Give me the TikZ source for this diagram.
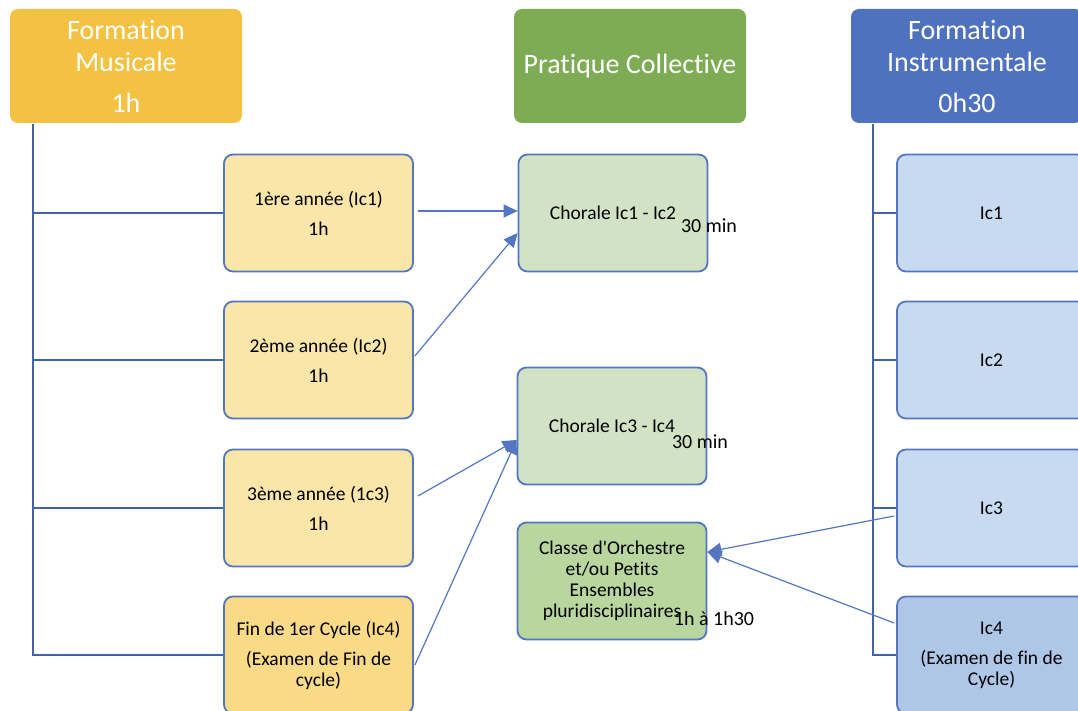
\documentclass[tikz,border=0pt]{standalone}
\usepackage{fontspec}
\setmainfont[Ligatures=NoCommon]{Carlito}
\usetikzlibrary{arrows.meta}
\definecolor{hdyellow}{RGB}{244,194,66}
\definecolor{hdgreen}{RGB}{126,172,85}
\definecolor{hdblue}{RGB}{79,114,190}
\definecolor{bxyellow}{RGB}{250,230,168}
\definecolor{bxyellowd}{RGB}{249,218,134}
\definecolor{bxgreen}{RGB}{210,227,197}
\definecolor{bxgreend}{RGB}{184,214,158}
\definecolor{bxblue}{RGB}{200,218,240}
\definecolor{bxblued}{RGB}{175,199,231}
\definecolor{edge}{RGB}{84,118,194}
\definecolor{treecol}{RGB}{66,98,170}
\tikzset{
  header/.style={rounded corners=8pt, inner sep=0pt, minimum width=232pt, minimum height=114pt,
    text=white, align=center, font=\fontsize{28}{32}\selectfont},
  cell/.style={draw=edge, line width=1.8pt, rounded corners=9pt, inner sep=0pt,
    minimum width=189pt, minimum height=117pt, align=center, font=\fontsize{19.5}{21}\selectfont},
  plain/.style={inner sep=0pt, font=\fontsize{20}{21}\selectfont},
  treeline/.style={draw=treecol, line width=2pt},
  arr/.style={draw=edge, line width=1.2pt, -{Triangle[length=14pt,width=13pt]}}
}
\begin{document}
\begin{tikzpicture}[x=1pt,y=-1pt]
\useasboundingbox (0,0) rectangle (1078,711);
% headers
\node[header, fill=hdyellow] (fm) at (126,66) {Formation\\Musicale\\[9pt]1h};
\node[header, fill=hdgreen] (pc) at (630,66) {Pratique Collective};
\node[header, fill=hdblue] (fi) at (967,66) {Formation\\Instrumentale\\[9pt]0h30};
% left column
\node[cell, fill=bxyellow] (y1) at (318.5,213) {1ère année (Ic1)\\[9pt]1h};
\node[cell, fill=bxyellow] (y2) at (318.5,360) {2ème année (Ic2)\\[9pt]1h};
\node[cell, fill=bxyellow] (y3) at (318.5,508) {3ème année (1c3)\\[9pt]1h};
\node[cell, fill=bxyellowd] (y4) at (318.5,655) {Fin de 1er Cycle (Ic4)\\[9pt](Examen de Fin de\\cycle)};
% middle column
\node[cell, fill=bxgreen] (c1) at (613,213) {Chorale Ic1 - Ic2};
\node[plain] (t1) at (709,226) {30 min};
\node[cell, fill=bxgreen] (c2) at (612,426) {Chorale Ic3 - Ic4};
\node[plain] (t2) at (700,442) {30 min};
\node[cell, fill=bxgreend] (co) at (612,581) {Classe d\textquotesingle Orchestre\\et/ou Petits\\Ensembles\\pluridisciplinaires};
\node[plain] (t3) at (714,619) {1h à 1h30};
% right column
\node[cell, fill=bxblue] (i1) at (991.5,213) {Ic1};
\node[cell, fill=bxblue] (i2) at (991.5,360) {Ic2};
\node[cell, fill=bxblue] (i3) at (991.5,508) {Ic3};
\node[cell, fill=bxblued] (i4) at (991.5,655) {Ic4\\[9pt](Examen de fin de\\Cycle)};
% tree lines
\coordinate (lt) at (33,124);
\coordinate (rt) at (873,124);
\draw[treeline] (lt) |- (y4.west);
\draw[treeline] (lt |- y1.west) -- (y1.west);
\draw[treeline] (lt |- y2.west) -- (y2.west);
\draw[treeline] (lt |- y3.west) -- (y3.west);
\draw[treeline] (rt) |- (i4.west);
\draw[treeline] (rt |- i1.west) -- (i1.west);
\draw[treeline] (rt |- i2.west) -- (i2.west);
\draw[treeline] (rt |- i3.west) -- (i3.west);
% arrows
\draw[arr] ([xshift=4pt,yshift=2pt]y1.east) -- ([yshift=2pt]c1.west);
\draw[arr] ([xshift=1pt,yshift=4pt]y2.east) -- ([yshift=-20pt]c1.west);
\draw[arr] ([xshift=4pt,yshift=12pt]y3.east) -- ([yshift=-14pt]c2.west);
\draw[arr] ([xshift=1pt,yshift=-10pt]y4.east) -- ([yshift=-14pt]c2.west);
\draw[arr] ([xshift=-2pt,yshift=-8pt]i3.west) -- ([yshift=29pt]co.east);
\draw[arr] ([xshift=-2pt,yshift=32pt]i4.west) -- ([yshift=29pt]co.east);
\end{tikzpicture}
\end{document}
